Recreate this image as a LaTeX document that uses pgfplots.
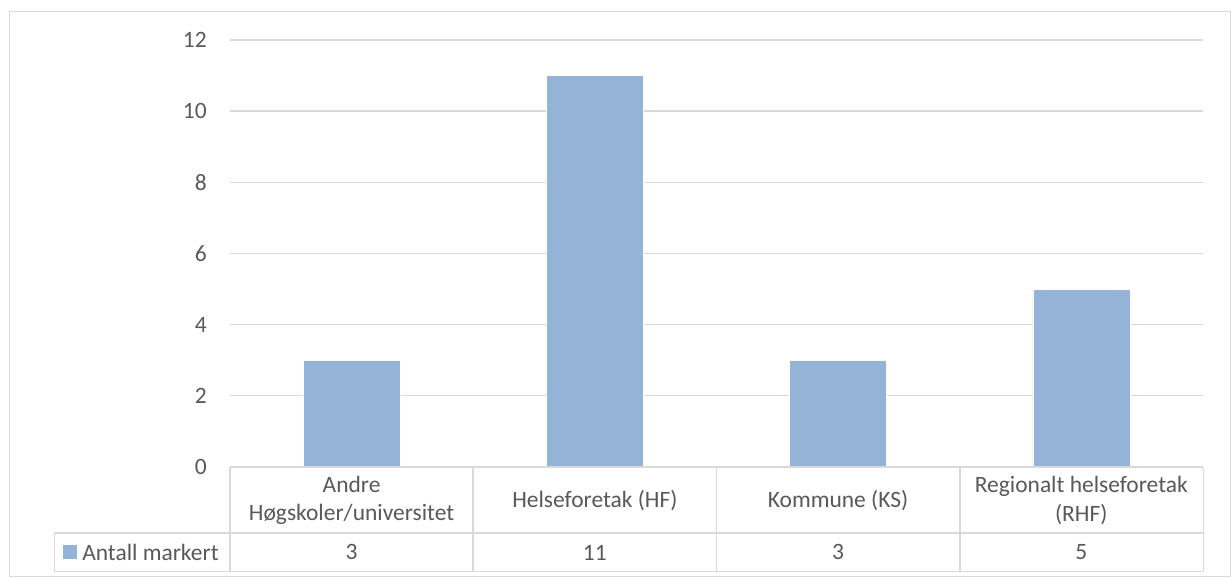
\documentclass[border=0pt]{standalone}
\usepackage{pgfplots}
\pgfplotsset{compat=1.18}
\usepackage{pgfplotstable}
\usepackage{fontspec}
\setmainfont{Carlito}
\definecolor{barblue}{HTML}{95B3D7}
\definecolor{txtgray}{HTML}{595959}
\definecolor{gridgray}{HTML}{D9D9D9}

\pgfplotstableread{
x y
0.5 3
1.5 11
2.5 3
3.5 5
}\datatable

\begin{document}
\begin{tikzpicture}[font=\fontsize{17.6}{21.2}\selectfont, text=txtgray]
\begin{scope}[x=0.75pt,y=-0.75pt]
\path[use as bounding box] (0,0) rectangle (1231,577);
\fill[white] (0,0) rectangle (1231,577);
\end{scope}
\begin{axis}[
  at={(172.5pt,-350.25pt)}, anchor=south west,
  scale only axis, width=729.75pt, height=320.25pt,
  xmin=0, xmax=4, ymin=0, ymax=12,
  xtick=\empty,
  ytick={0,2,...,12},
  ymajorgrids,
  major grid style={draw=gridgray, line width=1pt},
  axis line style={draw=none},
  tick style={draw=none},
  /pgf/number format/assume math mode=true,
  yticklabel style={font=\fontsize{17.6}{21.2}\selectfont, text=txtgray, inner sep=0pt, anchor=east, xshift=-17.25pt},
  clip=false,
]
\addplot[ybar, bar width=72.75pt, fill=barblue, draw=white, line width=0.4pt] table[x=x, y=y] {\datatable};
\end{axis}
\begin{scope}[x=0.75pt,y=-0.75pt]
% outer frame
\draw[gridgray, line width=0.9pt] (9.5,11.5) rectangle (1230.5,576.5);
% table lines
\begin{scope}[gridgray, line width=1.3pt]
\draw (230,467) -- (1203.5,467);
\draw (54.5,533) -- (1203.5,533);
\draw (54.5,571.5) -- (1203.5,571.5);
\draw (54.5,533) -- (54.5,571.5);
\foreach \xx in {230,473.25,716.5,959.75,1203.5} {\draw (\xx,467) -- (\xx,571.5);}
\end{scope}
% legend key
\fill[barblue] (63,545) rectangle (77,559);
\node[anchor=west, inner sep=0pt] at (82,552) {Antall markert};
% category labels
\node[align=center] at (351.6,500.5) {Andre\\Høgskoler/universitet};
\node[align=center] at (594.9,500.5) {Helseforetak (HF)};
\node[align=center] at (838.1,500.5) {Kommune (KS)};
\node[align=center] at (1081.4,500.5) {Regionalt helseforetak\\(RHF)};
% values row
\foreach \i in {0,...,3} {
  \pgfplotstablegetelem{\i}{y}\of\datatable
  \node at ({230+243.25*(\i+0.5)},552.5) {\pgfplotsretval};
}
\end{scope}
\end{tikzpicture}
\end{document}
